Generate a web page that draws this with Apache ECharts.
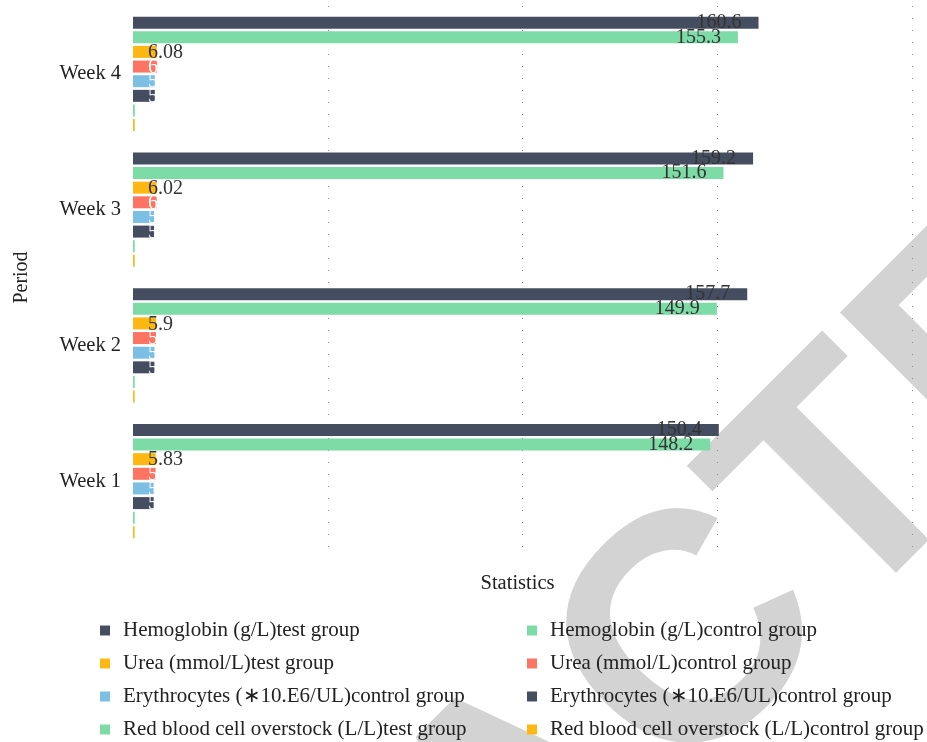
<!DOCTYPE html>
<html>
<head>
<meta charset="utf-8">
<script src="https://cdn.jsdelivr.net/npm/echarts@6/dist/echarts.min.js"></script>
<style>
  html, body { margin: 0; padding: 0; background: #fff; }
  #chart { width: 927px; height: 742px; }
</style>
</head>
<body>
<div id="chart"></div>
<script>
// Blood indicators per week, test vs control
const weeks = ['Week 1', 'Week 2', 'Week 3', 'Week 4'];
const hemoglobinTest = [150.4, 157.7, 159.2, 160.6];
const hemoglobinControl = [148.2, 149.9, 151.6, 155.3];
const ureaTest = [5.83, 5.9, 6.02, 6.08];
const ureaControl = [5.8, 5.9, 6.1, 6.2];
const erythrocytesA = [5.3, 5.5, 5.4, 5.6];
const erythrocytesB = [5.3, 5.5, 5.4, 5.6];
const overstockTest = [0.44, 0.45, 0.45, 0.46];
const overstockControl = [0.42, 0.43, 0.44, 0.44];

const seriesNames = [
  'Hemoglobin (g/L)test group',
  'Hemoglobin (g/L)control group',
  'Urea (mmol/L)test group',
  'Urea (mmol/L)control group',
  'Erythrocytes (\u221710.E6/UL)control group',
  'Erythrocytes (\u221710.E6/UL)control group ',
  'Red blood cell overstock (L/L)test group',
  'Red blood cell overstock (L/L)control group'
];
const seriesData = [
  hemoglobinTest, hemoglobinControl, ureaTest, ureaControl,
  erythrocytesA, erythrocytesB, overstockTest, overstockControl
];
const colors = ['#454e60', '#7ddba5', '#fdb813', '#fd7562', '#7bbfe4', '#454e60', '#7ddba5', '#fdb813'];

const FONT = 'Liberation Serif';

function labelFor(i) {
  if (i < 2) {
    return { show: true, position: 'insideRight', distance: 17, color: '#333', fontFamily: FONT, fontSize: 20 };
  }
  return {
    show: true, position: 'insideLeft', distance: 15, offset: [0, 1],
    color: i === 2 ? '#333' : '#fff', fontFamily: FONT, fontSize: 20
  };
}

const series = seriesNames.map((name, i) => ({
  name: name,
  type: 'bar',
  data: seriesData[i],
  barWidth: 12,
  barGap: '22%',
  itemStyle: { color: colors[i] },
  label: labelFor(i),
  emphasis: { disabled: true }
}));

const legendText = { fontFamily: FONT, fontSize: 21, lineHeight: 21, color: '#222', padding: [0, 0, 0, 8] };

function legendColumn(left, names) {
  return {
    orient: 'vertical', left: left, top: 620, padding: 0,
    itemWidth: 10, itemHeight: 10, itemGap: 12,
    icon: 'rect', textStyle: legendText, data: names, selectedMode: false
  };
}

const chart = echarts.init(document.getElementById('chart'), null, { renderer: 'canvas' });
chart.setOption({
  animation: false,
  backgroundColor: '#fff',
  color: colors,
  grid: { left: 133, right: 15, top: 6, bottom: 193, containLabel: false },
  xAxis: {
    type: 'value', min: 0, max: 200, interval: 50,
    name: 'Statistics', nameLocation: 'middle', nameGap: 24,
    nameTextStyle: { fontFamily: FONT, fontSize: 20.5, color: '#222', padding: [0, 10, 0, 0] },
    axisLabel: { show: false }, axisLine: { show: false }, axisTick: { show: false },
    splitLine: { show: true, showMinLine: false, lineStyle: { type: [1, 11], color: '#8a8a8a', width: 1 } }
  },
  yAxis: {
    type: 'category', data: weeks,
    name: 'Period', nameLocation: 'middle', nameGap: 101,
    nameTextStyle: { fontFamily: FONT, fontSize: 20, color: '#222' },
    axisLine: { show: false }, axisTick: { show: false },
    axisLabel: { fontFamily: FONT, fontSize: 20.5, color: '#222', margin: 12 }
  },
  legend: [
    legendColumn(100, [seriesNames[0], seriesNames[2], seriesNames[4], seriesNames[6]]),
    legendColumn(527, [seriesNames[1], seriesNames[3], seriesNames[5], seriesNames[7]])
  ],
  graphic: [{
    type: 'text', z: -10, silent: true,
    x: 530, y: 812, rotation: Math.PI / 4,
    style: {
      text: 'RETRACTED', fill: '#d3d3d3',
      font: 'bold 325px "Liberation Sans"',
      align: 'center', verticalAlign: 'middle'
    }
  }],
  series: series
});
</script>
</body>
</html>
